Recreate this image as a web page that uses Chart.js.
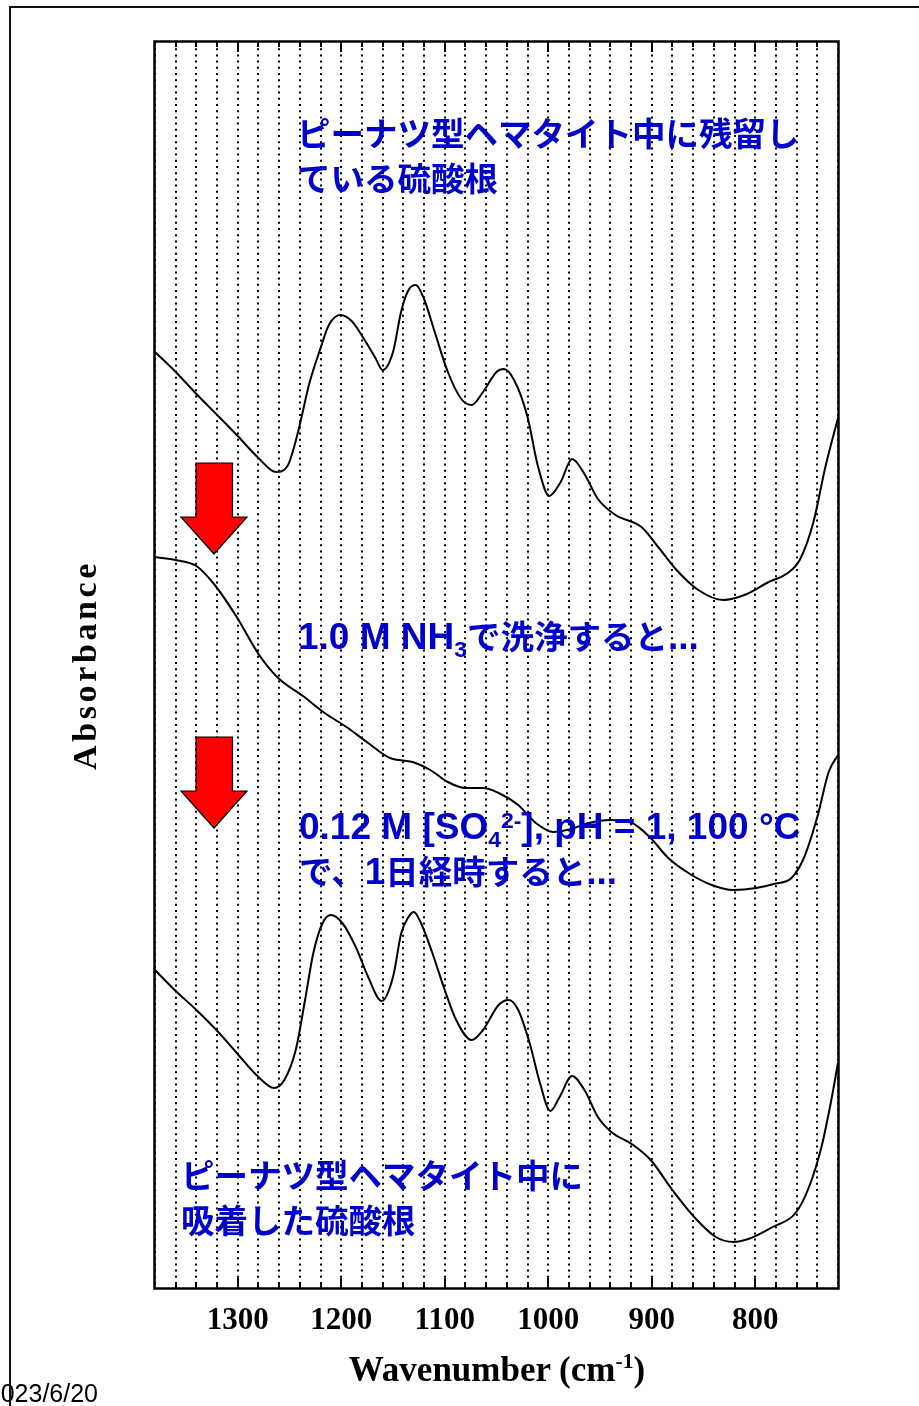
<!DOCTYPE html>
<html lang="ja">
<head>
<meta charset="utf-8">
<title>FT-IR spectra</title>
<script src="https://cdn.jsdelivr.net/npm/chart.js@4/dist/chart.umd.min.js"></script>
<style>
  html, body { margin: 0; padding: 0; background: #fff; }
  body { width: 919px; height: 1406px; position: relative; overflow: hidden; }
  #chart { position: absolute; left: 0; top: 0; }
  .note {
    position: absolute; white-space: nowrap; color: #0000cc;
    font-family: "Liberation Sans", "Noto Sans CJK JP", sans-serif;
    font-weight: bold; font-size: 37px; line-height: 45px;
  }
  .note.jp-only { font-size: 33.5px; }
  .note .jp { font-size: 33.5px; }
  .note sub, .note sup { font-size: 0.62em; line-height: 0; position: relative; vertical-align: baseline; }
  .note sub { top: 0.35em; }
  .note sup { top: -0.5em; }
  .axis-title {
    position: absolute; white-space: nowrap; color: #000;
    font-family: "Liberation Serif", "DejaVu Serif", serif; font-weight: bold;
  }
  #xtitle { left: 297px; width: 400px; text-align: center; top: 1350px; font-size: 35px; line-height: 40px; }
  #xtitle sup { font-size: 0.62em; line-height: 0; position: relative; vertical-align: baseline; top: -0.6em; }
  #ytitle { left: -65px; top: 645px; width: 300px; height: 40px; line-height: 40px; text-align: center;
            font-size: 34px; letter-spacing: 3.6px; transform: rotate(-90deg); transform-origin: 150px 20px; }
  #date { position: absolute; right: 821px; top: 1378px; font-family: "Liberation Sans", sans-serif;
          font-size: 25px; line-height: 30px; color: #000; white-space: nowrap; }
  #slide { position: absolute; left: 9px; top: 6px; width: 1000px; height: 1500px;
           border-top: 2px solid #111; border-left: 2px solid #111; box-sizing: border-box; }
</style>
</head>
<body>
<canvas id="chart" width="919" height="1406"></canvas>

<div class="note jp-only" style="left:297px;top:112px">ピーナツ型ヘマタイト中に残留し<br>ている硫酸根</div>
<div class="note" style="left:298px;top:614px">1.0 M NH<sub>3</sub><span class="jp">で洗浄すると</span>...</div>
<div class="note" style="left:299px;top:804px">0.12 M [SO<sub>4</sub><sup>2-</sup>], pH = 1, 100 °C<br><span class="jp">で、</span>1<span class="jp">日経時すると</span>...</div>
<div class="note jp-only" style="left:181px;top:1154px">ピーナツ型ヘマタイト中に<br>吸着した硫酸根</div>

<div class="axis-title" id="xtitle">Wavenumber (cm<sup>-1</sup>)</div>
<div class="axis-title" id="ytitle">Absorbance</div>
<div id="date">2023/6/20</div>
<div id="slide"></div>

<script>
// Wavenumber axis (cm-1), drawn high to low
const wnMin = 720;
const wnMax = 1380;
const gridStep = 20;
const tickLabels = [1300, 1200, 1100, 1000, 900, 800];

// Residual sulfate in peanut-type hematite (offset absorbance)
const residualWn = [1380, 1360, 1340, 1318, 1301, 1280, 1263, 1252, 1242, 1231, 1220, 1212, 1201, 1190, 1178, 1167,
  1160, 1150, 1142, 1135, 1128, 1120, 1110, 1097, 1084, 1074, 1063, 1050, 1043, 1033, 1020, 1010, 999, 988, 977,
  965, 952, 935, 910, 893, 876, 855, 831, 808, 787, 770, 757, 744, 732, 720];
const residualAbs = [0.936, 0.916, 0.894, 0.871, 0.853, 0.830, 0.816, 0.822, 0.855, 0.904, 0.940, 0.963, 0.973,
  0.967, 0.949, 0.930, 0.918, 0.936, 0.977, 0.998, 1.003, 0.989, 0.957, 0.916, 0.889, 0.883, 0.896, 0.916, 0.919,
  0.908, 0.871, 0.822, 0.792, 0.806, 0.829, 0.814, 0.789, 0.773, 0.761, 0.740, 0.718, 0.698, 0.688, 0.694, 0.706,
  0.714, 0.728, 0.765, 0.822, 0.870];

// After washing with 1.0 M NH3
const washedWn = [1380, 1360, 1340, 1323, 1301, 1280, 1261, 1237, 1216, 1195, 1174, 1153, 1131, 1114, 1097, 1080,
  1063, 1046, 1029, 1012, 995, 978, 961, 940, 919, 902, 884, 863, 842, 821, 799, 782, 765, 753, 740, 729, 720];
const washedAbs = [0.731, 0.728, 0.722, 0.704, 0.671, 0.634, 0.610, 0.592, 0.575, 0.561, 0.545, 0.530, 0.526,
  0.518, 0.506, 0.500, 0.500, 0.494, 0.483, 0.465, 0.456, 0.459, 0.465, 0.468, 0.465, 0.451, 0.430, 0.414, 0.403,
  0.398, 0.400, 0.404, 0.410, 0.430, 0.471, 0.516, 0.533];

// Sulfate adsorbed after 1 day in 0.12 M SO4(2-), pH 1, 100 °C
const adsorbedWn = [1380, 1361, 1340, 1318, 1301, 1280, 1265, 1255, 1244, 1235, 1227, 1218, 1210, 1199, 1186,
  1174, 1161, 1150, 1142, 1135, 1130, 1123, 1112, 1101, 1089, 1074, 1063, 1048, 1038, 1029, 1018, 1008, 998, 989,
  977, 965, 952, 939, 918, 901, 880, 859, 838, 821, 804, 783, 761, 748, 736, 727, 720];
const adsorbedAbs = [0.318, 0.298, 0.278, 0.255, 0.235, 0.211, 0.200, 0.208, 0.238, 0.288, 0.335, 0.365, 0.373,
  0.365, 0.341, 0.311, 0.287, 0.311, 0.355, 0.371, 0.376, 0.365, 0.335, 0.301, 0.268, 0.248, 0.258, 0.283, 0.288,
  0.278, 0.245, 0.205, 0.177, 0.191, 0.212, 0.198, 0.171, 0.156, 0.143, 0.128, 0.098, 0.071, 0.051, 0.046, 0.050,
  0.061, 0.075, 0.101, 0.141, 0.185, 0.225];

const absMin = 0;
const absMax = 1.246;

function toPoints(xs, ys) {
  return xs.map((x, i) => ({ x: x, y: ys[i] }));
}

function spectrum(label, xs, ys) {
  return {
    label: label,
    data: toPoints(xs, ys),
    borderColor: '#000',
    borderWidth: 2,
    pointRadius: 0,
    fill: false,
    cubicInterpolationMode: 'monotone'
  };
}

// Red "down" arrows between the spectra
const arrowPlugin = {
  id: 'arrows',
  beforeDatasetsDraw(chart) {
    const c = chart.ctx;
    const tops = [463, 737];
    c.save();
    tops.forEach(t => {
      c.beginPath();
      c.moveTo(196, t);
      c.lineTo(232.5, t);
      c.lineTo(232.5, t + 54);
      c.lineTo(247, t + 54);
      c.lineTo(214, t + 91);
      c.lineTo(181, t + 54);
      c.lineTo(196, t + 54);
      c.closePath();
      c.fillStyle = '#ff0000';
      c.fill();
      c.lineWidth = 1.2;
      c.strokeStyle = '#000';
      c.stroke();
    });
    c.restore();
  }
};

// Plot frame with inward tick marks on top and bottom edges
const framePlugin = {
  id: 'frame',
  afterDraw(chart) {
    const c = chart.ctx;
    const a = chart.chartArea;
    const xs = chart.scales.x;
    c.save();
    c.strokeStyle = '#000';
    c.lineWidth = 2;
    for (let v = wnMin + gridStep; v < wnMax; v += gridStep) {
      const px = Math.round(xs.getPixelForValue(v));
      const len = v % 100 === 0 ? 10 : 5;
      c.beginPath();
      c.moveTo(px, a.bottom);
      c.lineTo(px, a.bottom - len);
      c.moveTo(px, a.top);
      c.lineTo(px, a.top + len);
      c.stroke();
    }
    c.lineWidth = 2.5;
    c.strokeRect(a.left - 0.5, a.top - 0.5, a.right - a.left + 1, a.bottom - a.top + 1);
    c.restore();
  }
};

new Chart(document.getElementById('chart'), {
  type: 'line',
  data: {
    datasets: [
      spectrum('残留した硫酸根', residualWn, residualAbs),
      spectrum('1.0 M NH3 洗浄後', washedWn, washedAbs),
      spectrum('吸着した硫酸根', adsorbedWn, adsorbedAbs)
    ]
  },
  options: {
    responsive: false,
    animation: false,
    devicePixelRatio: 1,
    layout: { padding: { left: 155, right: 81, top: 42, bottom: 0 } },
    plugins: { legend: { display: false }, tooltip: { enabled: false } },
    scales: {
      x: {
        type: 'linear',
        reverse: true,
        min: wnMin,
        max: wnMax,
        afterFit(scale) { scale.height = 118; },
        grid: { color: '#000', lineWidth: 2, drawTicks: false },
        border: { display: false, dash: [2, 4.2] },
        ticks: {
          stepSize: gridStep,
          autoSkip: false,
          maxRotation: 0,
          padding: 14,
          color: '#000',
          font: { family: 'Liberation Serif', weight: 'bold', size: 31 },
          callback: v => (tickLabels.includes(v) ? String(v) : '')
        }
      },
      y: { display: false, min: absMin, max: absMax }
    }
  },
  plugins: [arrowPlugin, framePlugin]
});
</script>
</body>
</html>
